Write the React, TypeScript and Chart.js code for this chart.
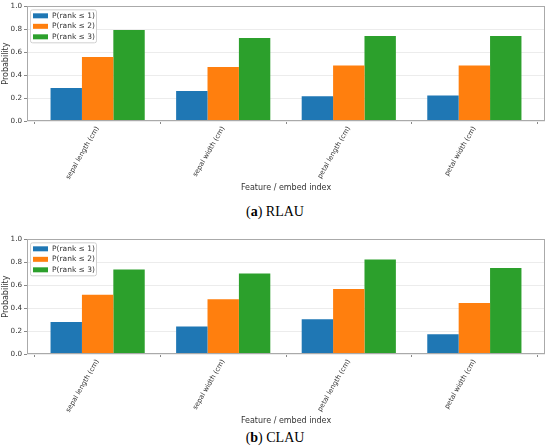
import React, { useEffect, useRef } from 'react';
import { Chart, registerables } from 'chart.js';

Chart.register(...registerables);

const categories = ['sepal length (cm)', 'sepal width (cm)', 'petal length (cm)', 'petal width (cm)'];
const seriesLabels = ['P(rank ≤ 1)', 'P(rank ≤ 2)', 'P(rank ≤ 3)'];
const seriesColors = ['#1f77b4', '#ff7f0e', '#2ca02c'];

const rlauRank1 = [0.288, 0.262, 0.216, 0.222];
const rlauRank2 = [0.559, 0.47, 0.484, 0.484];
const rlauRank3 = [0.793, 0.723, 0.741, 0.741];

const clauRank1 = [0.28, 0.24, 0.303, 0.173];
const clauRank2 = [0.517, 0.477, 0.566, 0.445];
const clauRank3 = [0.737, 0.702, 0.824, 0.749];

const yTicks = [0, 0.2, 0.4, 0.6, 0.8, 1.0];

const FONT = 'DejaVu Sans';
const TEXT = '#333';

const frameLegendPlugin = {
  id: 'frameLegend',
  afterDatasetsDraw(chart: any) {
    const { ctx, chartArea: a } = chart;
    ctx.save();
    ctx.strokeStyle = '#aaaaaa';
    ctx.lineWidth = 1;
    ctx.strokeRect(Math.round(a.left) + 0.5, Math.round(a.top) + 0.5, Math.round(a.right - a.left) - 1, Math.round(a.bottom - a.top) - 1);

    const lx = a.left + 3;
    const ly = a.top + 3;
    const lw = 66;
    const lh = 33;
    ctx.beginPath();
    if (ctx.roundRect) ctx.roundRect(lx + 0.5, ly + 0.5, lw, lh, 2);
    else ctx.rect(lx + 0.5, ly + 0.5, lw, lh);
    ctx.fillStyle = 'rgba(255,255,255,0.85)';
    ctx.fill();
    ctx.strokeStyle = '#d0d0d0';
    ctx.stroke();

    chart.data.datasets.forEach((ds: any, i: number) => {
      const cy = a.top + 9.5 + i * 10.5;
      ctx.fillStyle = ds.backgroundColor;
      ctx.fillRect(a.left + 6, cy - 2.5, 15, 5);
      ctx.fillStyle = TEXT;
      ctx.font = `7.5px "${FONT}"`;
      ctx.textBaseline = 'middle';
      ctx.textAlign = 'left';
      ctx.fillText(ds.label, a.left + 25, cy);
    });
    ctx.restore();
  },
};

function makeConfig(series: number[][]) {
  return {
    type: 'bar',
    data: {
      datasets: series.map((vals, k) => ({
        label: seriesLabels[k],
        data: vals.map((y, i) => ({ x: i, y })),
        backgroundColor: seriesColors[k],
        borderWidth: 0,
        categoryPercentage: 0.75,
        barPercentage: 1,
      })),
    },
    options: {
      animation: false,
      responsive: false,
      maintainAspectRatio: false,
      layout: { padding: { top: 5, right: 5, left: 0, bottom: 0 } },
      plugins: { legend: { display: false }, tooltip: { enabled: false } },
      scales: {
        x: {
          type: 'linear',
          min: -0.5625,
          max: 3.5625,
          offset: false,
          afterBuildTicks: (s: any) => {
            s.ticks = categories.map((_, i) => ({ value: i }));
          },
          afterFit: (s: any) => {
            s.height = 74;
          },
          ticks: {
            callback: (v: any) => categories[v] ?? '',
            minRotation: 60,
            maxRotation: 60,
            autoSkip: false,
            font: { family: FONT, size: 6.8 },
            color: TEXT,
            padding: 1,
          },
          grid: { display: true, drawOnChartArea: false, tickLength: 3, color: '#888' },
          border: { display: false },
          title: {
            display: true,
            text: 'Feature / embed index',
            font: { family: FONT, size: 8 },
            color: TEXT,
            padding: { top: 2, bottom: 2 },
          },
        },
        y: {
          min: 0,
          max: 1,
          afterBuildTicks: (s: any) => {
            s.ticks = yTicks.map((v) => ({ value: v }));
          },
          afterFit: (s: any) => {
            s.width = 27;
          },
          ticks: {
            callback: (v: any) => Number(v).toFixed(1),
            font: { family: FONT, size: 7.2 },
            color: TEXT,
            padding: 2,
          },
          grid: { color: '#ececec', tickColor: '#888', tickLength: 3 },
          border: { display: false },
          title: {
            display: true,
            text: 'Probability',
            font: { family: FONT, size: 8 },
            color: TEXT,
            padding: { top: 1, bottom: 0 },
          },
        },
      },
    },
    plugins: [frameLegendPlugin],
  };
}

function BarPanel({ series }: { series: number[][] }) {
  const ref = useRef<HTMLCanvasElement | null>(null);
  useEffect(() => {
    if (!ref.current) return;
    const chart = new Chart(ref.current, makeConfig(series) as any);
    return () => chart.destroy();
  }, [series]);
  return <canvas ref={ref} width={550} height={195} style={{ display: 'block', width: 550, height: 195 }} />;
}

const captionStyle: React.CSSProperties = {
  position: 'absolute',
  left: 0,
  width: 550,
  textAlign: 'center',
  fontFamily: '"Liberation Serif", serif',
  fontSize: 14,
  lineHeight: '18px',
  color: '#000',
};

export default function App() {
  return (
    <div style={{ position: 'absolute', left: 0, top: 0, width: 550, height: 448, background: '#fff', overflow: 'hidden' }}>
      <div style={{ position: 'absolute', left: 0, top: 0 }}>
        <BarPanel series={[rlauRank1, rlauRank2, rlauRank3]} />
      </div>
      <div style={{ ...captionStyle, top: 203 }}>
        (<b>a</b>) RLAU
      </div>
      <div style={{ position: 'absolute', left: 0, top: 233 }}>
        <BarPanel series={[clauRank1, clauRank2, clauRank3]} />
      </div>
      <div style={{ ...captionStyle, top: 429 }}>
        (<b>b</b>) CLAU
      </div>
    </div>
  );
}
